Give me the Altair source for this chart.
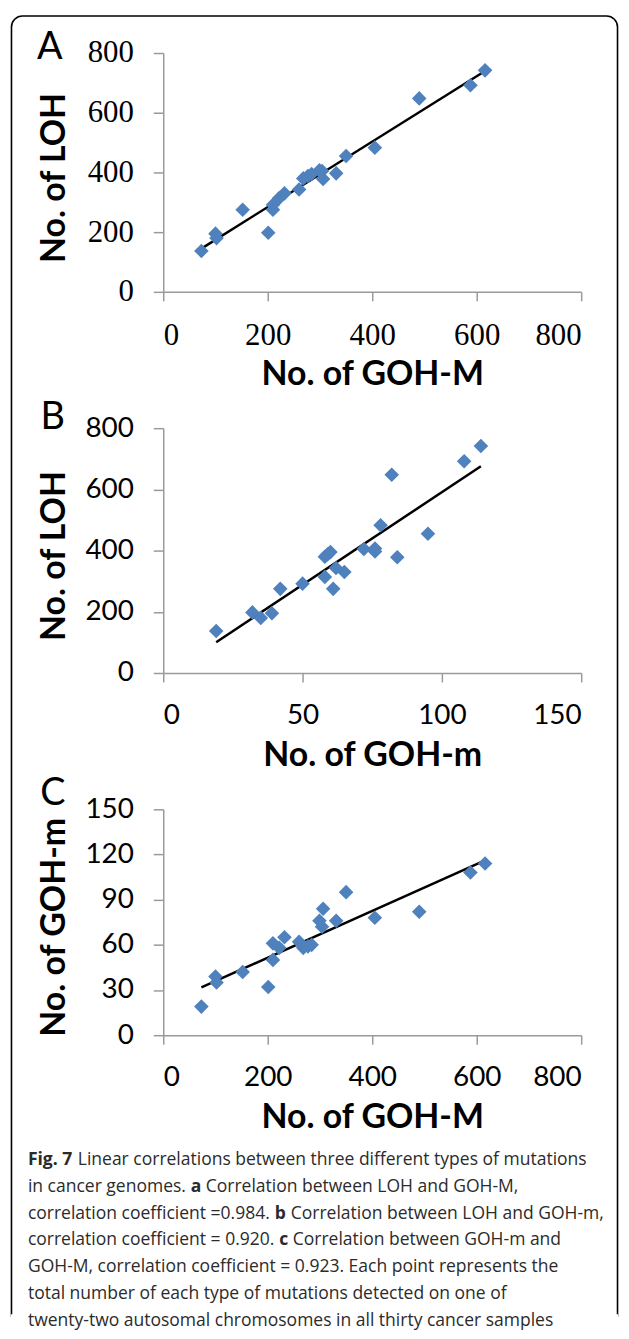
import altair as alt
import pandas as pd

# ---- data (one point per autosomal chromosome) ----
goh_M = [73, 100, 102, 152, 201, 210, 210, 222, 232, 260, 268, 277, 284, 299, 304, 306, 331, 350, 405, 490, 588, 616]
goh_m = [19, 39, 35, 42, 32, 50, 61, 58, 65, 62, 58, 59, 60, 76, 72, 84, 76, 95, 78, 82, 108, 114]
loh = [137, 195, 180, 275, 198, 292, 275, 314, 330, 343, 380, 388, 395, 407, 405, 378, 397, 455, 483, 648, 692, 742]

ticks_M = [0, 200, 400, 600, 800]
ticks_m_x = [0, 50, 100, 150]
ticks_L = [0, 200, 400, 600, 800]
ticks_m_y = [0, 30, 60, 90, 120, 150]

panel_letters = ["A", "B", "C"]
x_titles = ["No. of GOH-M", "No. of GOH-m", "No. of GOH-M"]
y_titles = ["No. of LOH", "No. of LOH", "No. of GOH-m"]

caption_lines = [
    [("Fig. 7", "bold"), ("Linear correlations between three different types of mutations", "normal")],
    [("in cancer genomes.", "normal"), ("a", "bold"), ("Correlation between LOH and GOH-M,", "normal")],
    [("correlation coefficient =0.984.", "normal"), ("b", "bold"), ("Correlation between LOH and GOH-m,", "normal")],
    [("correlation coefficient = 0.920.", "normal"), ("c", "bold"), ("Correlation between GOH-m and", "normal")],
    [("GOH-M, correlation coefficient = 0.923. Each point represents the", "normal")],
    [("total number of each type of mutations detected on one of", "normal")],
    [("twenty-two autosomal chromosomes in all thirty cancer samples", "normal")],
]

df = pd.DataFrame({"M": goh_M, "m": goh_m, "L": loh})
one = pd.DataFrame({"k": [0]})

# ---- layout constants (page pixels) ----
LEFT = 162
TOPS = [50.7, 427.3, 810.7]
WIDTH = 420
HEIGHTS = [240, 246, 227]
TITLE_Y = [125, 128, 118]
FRAME_L, FRAME_R, FRAME_T, FRAME_B = 9.5, 618.5, 13.5, 1320
BLUE = "#4f81bd"
AX = "#9a9a9a"
SANS = "Lato"
CAP_FONT = "Open Sans"
CAP_SIZE = 17.6

# approximate Open Sans advance widths (em) used only to chain caption segments
_W = {" ": .26, ".": .266, ",": .244, "=": .572, "-": .322}
_W.update({c: .572 for c in "0123456789"})
_W.update(dict(a=.556, b=.613, c=.476, d=.613, e=.561, f=.339, g=.548, h=.614, i=.253, j=.253,
               k=.513, l=.253, m=.93, n=.614, o=.604, p=.613, q=.613, r=.408, s=.477, t=.353,
               u=.614, v=.501, w=.788, x=.52, y=.501, z=.47))
_W.update(dict(C=.631, G=.734, H=.742, L=.549, M=.903, O=.781, E=.56, F=.52))


def text_w(s, bold=False):
    return sum(_W.get(ch, .56) for ch in s) * CAP_SIZE * (1.07 if bold else 1.0)


def axis(values, serif=False, orient="x", title_y=None):
    kw = dict(
        values=values,
        grid=False,
        domainColor=AX,
        domainWidth=1.5,
        tickColor=AX,
        tickWidth=1.5,
        tickSize=9 if orient == "x" else 10,
        labelFont="Liberation Serif" if serif else SANS,
        labelFontSize=31 if serif else 28,
        labelColor="black",
        labelPadding=20,
        titleFont=SANS,
        titleFontSize=34,
        titleFontWeight="bold",
        titleColor="black",
        titleBaseline="alphabetic",
    )
    if orient == "x":
        kw["titleY"] = 93
    else:
        kw["titleX"] = -99
        kw["titleY"] = title_y
        kw["titleAngle"] = -90
        kw["titleAlign"] = "center"
    return alt.Axis(**kw)


def panel(i, xf, yf, xdom, ydom, xt, yt, serif):
    top = TOPS[i]
    base = alt.Chart(df)
    pts = base.mark_point(shape="diamond", filled=True, size=215, color=BLUE, opacity=1).encode(
        x=alt.X(f"{xf}:Q", scale=alt.Scale(domain=xdom, nice=False), axis=axis(xt, serif, "x"), title=x_titles[i]),
        y=alt.Y(f"{yf}:Q", scale=alt.Scale(domain=ydom, nice=False),
                axis=axis(yt, serif, "y", TITLE_Y[i]), title=y_titles[i]),
    )
    reg = base.transform_regression(xf, yf).mark_line(color="black", strokeWidth=2.5).encode(
        x=f"{xf}:Q", y=f"{yf}:Q"
    )
    letter = alt.Chart(one).mark_text(
        text=panel_letters[i], font=SANS, fontSize=38, align="center", baseline="middle", color="black"
    ).encode(x=alt.value([48, 51, 51][i] - LEFT), y=alt.value([46, 417, 795][i] - top))
    layers = [reg, pts, letter]
    if i == 0:
        frame = alt.Chart(one).mark_rect(
            fill="transparent", stroke="black", strokeWidth=1.6,
            cornerRadiusTopLeft=11, cornerRadiusTopRight=11,
        ).encode(
            x=alt.value(FRAME_L - LEFT), x2=alt.value(FRAME_R - LEFT),
            y=alt.value(FRAME_T - top), y2=alt.value(FRAME_B - top),
        )
        cover = alt.Chart(one).mark_rule(color="white", strokeWidth=4).encode(
            x=alt.value(FRAME_L - 0.7 - LEFT), x2=alt.value(FRAME_R + 0.7 - LEFT),
            y=alt.value(FRAME_B - top), y2=alt.value(FRAME_B - top),
        )
        layers = [frame, cover] + layers
    if i == 2:
        for li, segs in enumerate(caption_lines):
            cy = 1163 + 27 * li
            px = 26
            for txt, wt in segs:
                layers.append(
                    alt.Chart(one).mark_text(
                        text=txt, font=CAP_FONT, fontSize=CAP_SIZE, fontWeight=wt, align="left",
                        baseline="middle", color="#2b2b2b", limit=FRAME_R + 1.5 - px,
                    ).encode(x=alt.value(px - LEFT), y=alt.value(cy - top))
                )
                px += text_w(txt, wt == "bold") + _W[" "] * CAP_SIZE
    return alt.layer(*layers).properties(width=WIDTH, height=HEIGHTS[i])


pa = panel(0, "M", "L", [0, 800], [0, 800], ticks_M, ticks_L, True)
pb = panel(1, "m", "L", [0, 150], [0, 800], ticks_m_x, ticks_L, False)
pc = panel(2, "M", "m", [0, 800], [0, 150], ticks_M, ticks_m_y, False)

chart = alt.vconcat(pa, pb, pc, spacing=137, bounds="flush").properties(
    padding={"top": 4, "left": 0, "right": 0, "bottom": 0}
).configure_view(stroke=None)

chart.save("out.html", embed_options={"renderer": "svg", "actions": False})
